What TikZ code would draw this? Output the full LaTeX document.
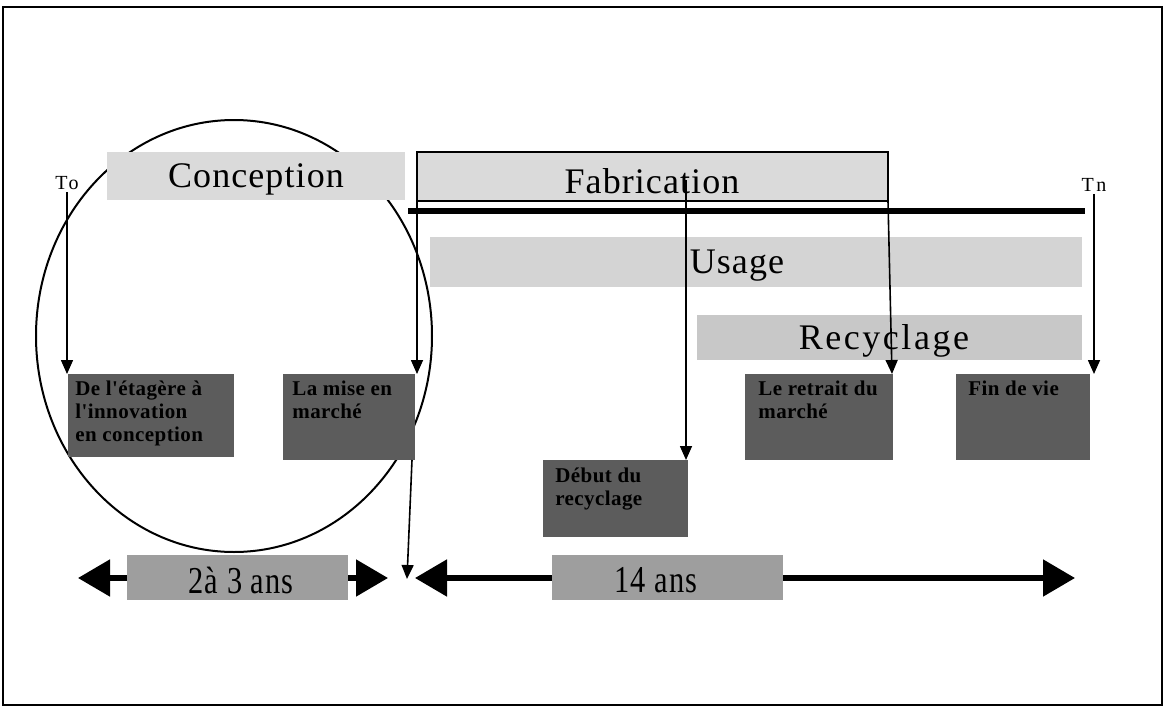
\documentclass[tikz,border=0pt]{standalone}
\usepackage{fontspec}
\setmainfont{Liberation Serif}
\newfontfamily\spfont[LetterSpace=3]{Liberation Serif}
\newfontfamily\wspfont[LetterSpace=7]{Liberation Serif}
\newfontfamily\smfont[LetterSpace=12]{Liberation Serif}
\newfontfamily\bxfont[LetterSpace=2]{Liberation Serif}
\usetikzlibrary{arrows.meta}
\definecolor{lightA}{RGB}{218,218,218}
\definecolor{lightB}{RGB}{212,212,212}
\definecolor{lightC}{RGB}{200,200,200}
\definecolor{darkbox}{RGB}{92,92,92}
\definecolor{midbox}{RGB}{158,158,158}
\tikzset{
  boxshape/.style={inner sep=0pt, outer sep=0pt, draw=none},
  lightbox/.style={boxshape, fill=#1},
  darkbx/.style={boxshape, fill=darkbox},
  midbx/.style={boxshape, fill=midbox},
  bigtext/.style={font=\spfont\fontsize{18}{18}\selectfont, inner sep=0pt},
  smalltext/.style={font=\bxfont\bfseries\fontsize{10.5}{11.5}\selectfont, align=left, anchor=north west, inner sep=0pt, text=black},
  tlabel/.style={font=\smfont\fontsize{10}{10}\selectfont, inner sep=1pt},
  arr/.style={line width=0.8pt, -{Triangle[length=7pt,width=6pt]}},
  bigarr/.style={line width=2.6pt, {Triangle[length=16pt,width=18pt]}-{Triangle[length=16pt,width=18pt]}},
  durtext/.style={font=\spfont\fontsize{19}{19}\selectfont, inner sep=0pt},
}
\begin{document}
\begin{tikzpicture}[x=0.5pt,y=-0.5pt]
\useasboundingbox (0,0) rectangle (1164,707);
% frame
\draw[line width=0.8pt] (3,7) rectangle (1162,705);
% ellipse (behind boxes)
\draw[line width=1pt] (234,336) ellipse [x radius=99pt, y radius=108pt];

% top phase boxes
\node[lightbox=lightA, minimum width=149pt, minimum height=24pt] (conc) at (256,176) {};
\node[bigtext] (conct) at (256,179) {Conception};
\node[lightbox=lightA, draw=black, line width=0.8pt, minimum width=235.5pt, minimum height=24.5pt] (fab) at (652.5,176.5) {};
\node[bigtext] (fabt) at (652,181) {Fabrication};
\node[lightbox=lightB, minimum width=326pt, minimum height=25pt] (usage) at (756,262) {};
\node[bigtext] (usaget) at (737,266) {Usage};
\node[lightbox=lightC, minimum width=192.5pt, minimum height=22.5pt] (recyc) at (889.5,337.5) {};
\node[bigtext, font=\wspfont\fontsize{18}{18}\selectfont] (recyct) at (884,341) {Recyclage};

% thick timeline
\coordinate (tl1) at (408,211);
\coordinate (tl2) at (1085,211);
\draw[line width=2.6pt] (tl1) -- (tl2);

% To / Tn labels
\node[tlabel] (to) at (67,183) {To};
\node[tlabel] (tn) at (1094,185) {Tn};

% dark boxes
\node[darkbx, minimum width=83pt, minimum height=41.5pt] (d1) at (151,415.5) {};
\node[smalltext] (d1t) at (75,381) {De l'étagère à\\l'innovation\\en conception};
\node[darkbx, minimum width=66pt, minimum height=43pt] (d2) at (349,417) {};
\node[smalltext] (d2t) at (292,381) {La mise en\\marché};
\node[darkbx, minimum width=74pt, minimum height=43pt] (d3) at (819,417) {};
\node[smalltext] (d3t) at (758,381) {Le retrait du\\marché};
\node[darkbx, minimum width=67pt, minimum height=43pt] (d4) at (1023,417) {};
\node[smalltext] (d4t) at (968,381) {Fin de vie};
\node[darkbx, minimum width=72.5pt, minimum height=38.5pt] (d5) at (615.5,498.5) {};
\node[smalltext] (d5t) at (555,468) {Début du\\recyclage};

% vertical arrows
\draw[arr] (to.south) -- (to.south |- d1.north);
\draw[arr] (tn.south) -- (tn.south |- d4.north);
\draw[arr] (fab.south west) -- (fab.south west |- d2.north);
\draw[arr] (fab.south east) -- ([xshift=2pt]fab.south east |- d3.north);
\coordinate (fm) at (686,180);
\draw[arr] (fm) -- (fm |- d5.north);
\coordinate (gap) at (407,579);
\draw[arr] ([xshift=-1.5pt]d2.south east) -- (gap);

% bottom duration arrows
\coordinate (l1) at (78,578);
\coordinate (l2) at (388,578);
\draw[bigarr] (l1) -- (l2);
\coordinate (r1) at (415,578);
\coordinate (r2) at (1075,578);
\draw[bigarr] (r1) -- (r2);
\node[midbx, minimum width=110.5pt, minimum height=22.5pt] (b1) at (237.5,577.5) {};
\node[durtext] (b1t) at (241,580) {\scalebox{0.8}[1]{2à 3 ans}};
\node[midbx, minimum width=115.5pt, minimum height=22.5pt] (b2) at (667.5,577.5) {};
\node[durtext] (b2t) at (656,580) {\scalebox{0.8}[1]{14 ans}};
\end{tikzpicture}
\end{document}
